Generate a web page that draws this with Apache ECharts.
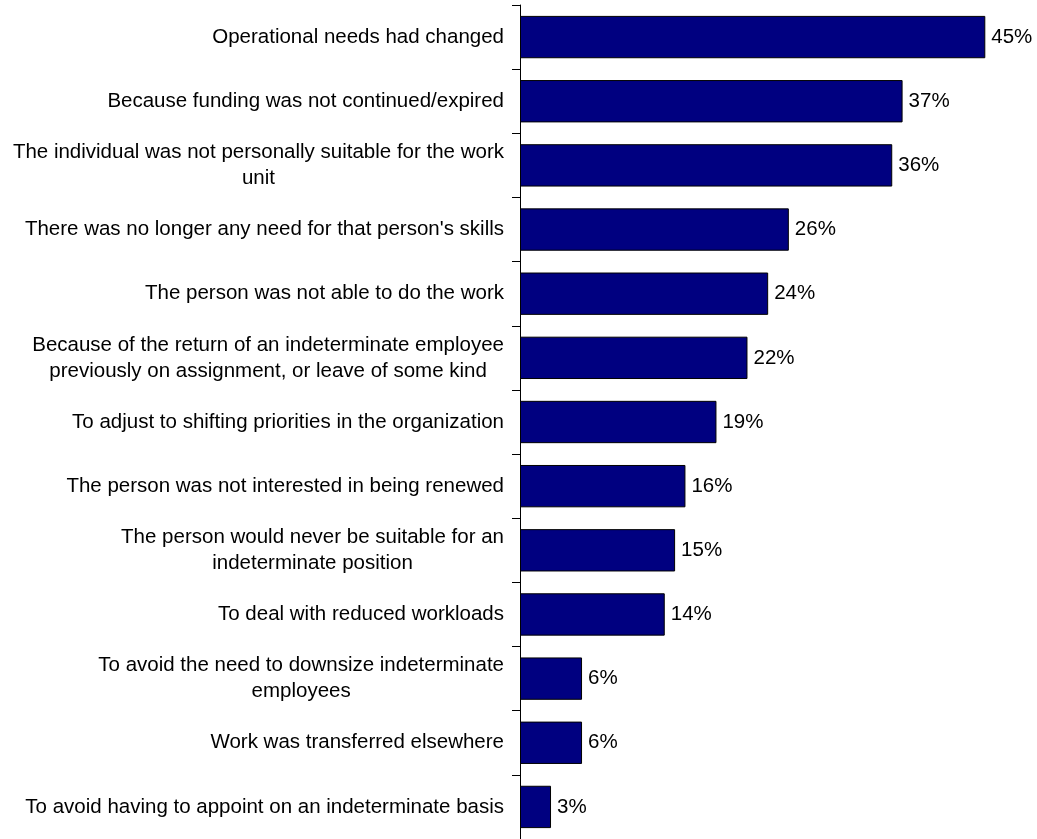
<!DOCTYPE html>
<html>
<head>
<meta charset="utf-8">
<script src="https://cdn.jsdelivr.net/npm/echarts@6/dist/echarts.min.js"></script>
<style>
  html, body { margin: 0; padding: 0; background: #fff; }
  #chart { width: 1037px; height: 839px; }
</style>
</head>
<body>
<div id="chart"></div>
<script>
// Reasons given, top to bottom
const categories = [
  "Operational needs had changed",
  "Because funding was not continued/expired",
  "The individual was not personally suitable for the work\nunit",
  "There was no longer any need for that person's skills",
  "The person was not able to do the work",
  "Because of the return of an indeterminate employee\npreviously on assignment, or leave of some kind",
  "To adjust to shifting priorities in the organization",
  "The person was not interested in being renewed",
  "The person would never be suitable for an\nindeterminate position",
  "To deal with reduced workloads",
  "To avoid the need to downsize indeterminate\nemployees",
  "Work was transferred elsewhere",
  "To avoid having to appoint on an indeterminate basis"
];
// Share of respondents (%)
const values = [45, 37, 36, 26, 24, 22, 19, 16, 15, 14, 6, 6, 3];

const chart = echarts.init(document.getElementById('chart'), null, { renderer: 'canvas' });
const fontFamily = 'Arial, "Liberation Sans", Helvetica, sans-serif';
const fontSize = 20.5;

chart.setOption({
  animation: false,
  backgroundColor: '#ffffff',
  grid: { left: 520, top: 5, width: 519, height: 838.5, containLabel: false },
  xAxis: {
    type: 'value',
    min: 0,
    max: 50,
    show: false
  },
  yAxis: {
    type: 'category',
    data: categories,
    inverse: true,
    boundaryGap: true,
    axisLine: { show: true, lineStyle: { color: '#000', width: 1 } },
    axisTick: { show: true, length: 8, inside: false, lineStyle: { color: '#000', width: 1 } },
    axisLabel: {
      margin: 16,
      fontFamily: fontFamily,
      fontSize: fontSize,
      color: '#000',
      formatter: function (v) {
        return v.split('\n').map(function (s) { return '{c|' + s + '}'; }).join('\n');
      },
      rich: {
        c: { align: 'center', fontFamily: fontFamily, fontSize: fontSize, color: '#000', lineHeight: 26 }
      }
    },
    splitLine: { show: false }
  },
  series: [{
    type: 'bar',
    data: values,
    barCategoryGap: '34%',
    itemStyle: { color: '#000080', borderColor: '#000', borderWidth: 1 },
    label: {
      show: true,
      position: 'right',
      distance: 6,
      formatter: '{c}%',
      fontFamily: fontFamily,
      fontSize: fontSize,
      color: '#000'
    }
  }]
});
</script>
</body>
</html>
